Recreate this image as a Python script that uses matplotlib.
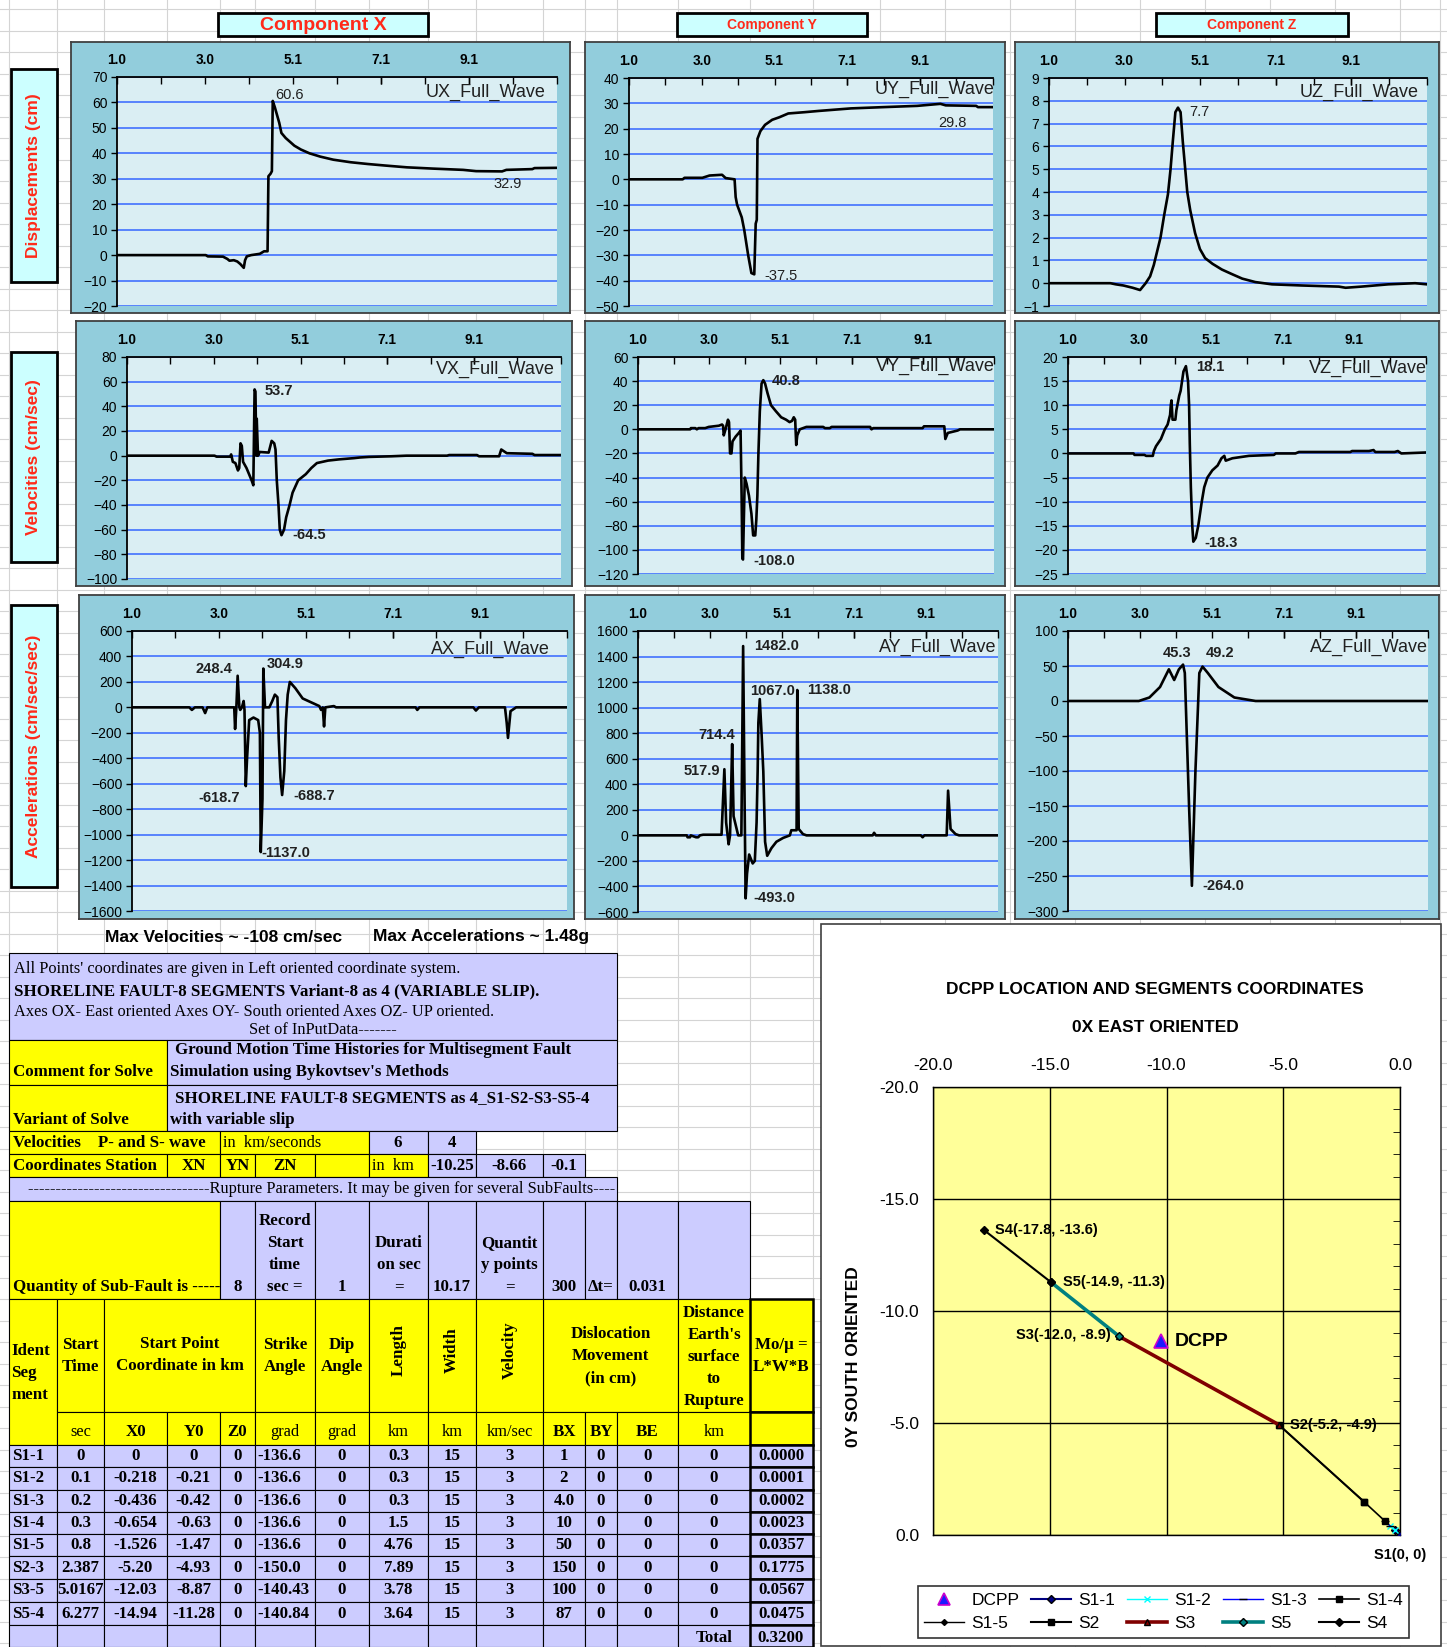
import numpy as np
import matplotlib
matplotlib.use('Agg')
import matplotlib.pyplot as plt
from matplotlib.patches import Rectangle
from matplotlib.lines import Line2D
from matplotlib.ticker import MultipleLocator

W, H = 1447, 1647
SANS = 'Liberation Sans'
SERIF = 'Liberation Serif'

# ---- waveforms (time sec, value) ----
UX_T = [1.0, 3.05, 3.1, 3.45, 3.55, 3.6, 3.7, 3.78, 3.85, 3.93, 3.96, 4.0, 4.1, 4.3, 4.4, 4.48, 4.5, 4.55, 4.58, 4.6,
        4.65, 4.7, 4.75, 4.8, 4.9, 5.0, 5.1, 5.25, 5.45, 5.7, 6.0, 6.4, 6.8, 7.2, 7.7, 8.3, 9.0, 9.3, 9.9, 10.0, 10.6, 10.65, 11.17]
UX_V = [0, 0, -0.5, -0.6, -1.5, -2.2, -2.0, -2.5, -3.5, -5.0, -2.0, -0.5, 0, 0.5, 1.5, 1.5, 31, 32, 33, 60.6,
        58, 55, 52, 48, 46, 44.5, 43, 41.5, 40, 38.7, 37.5, 36.5, 35.8, 35.2, 34.5, 34.0, 33.5, 33.0, 32.9, 33.5, 33.8, 34.2, 34.3]

UY_T = [1.0, 2.5, 2.55, 3.05, 3.25, 3.6, 3.7, 3.95, 3.98, 4.02, 4.15, 4.22, 4.33, 4.42, 4.5, 4.54, 4.57, 4.59, 4.67,
        4.8, 5.0, 5.2, 5.45, 5.9, 6.3, 7.2, 8.1, 9.05, 9.7, 9.85, 10.7, 10.75, 11.17]
UY_V = [0, 0, 0.6, 0.6, 1.5, 1.8, 0.5, 0, -7, -10, -15, -20, -30, -37, -37.5, -17.5, -16, 16, 19,
        21.5, 23.5, 24.5, 26, 26.5, 27, 28, 28.5, 29, 29.8, 29.2, 29.0, 28.5, 28.5]

UZ_T = [1.0, 2.65, 2.8, 3.0, 3.25, 3.45, 3.6, 3.72, 3.82, 4.0, 4.1, 4.2, 4.27, 4.33, 4.4, 4.47, 4.54, 4.6, 4.72, 4.8,
        4.93, 5.06, 5.2, 5.4, 5.65, 5.92, 6.2, 6.55, 7.0, 7.8, 8.8, 8.98, 9.4, 10.13, 10.85, 11.17]
UZ_V = [0, 0, -0.05, -0.1, -0.2, -0.3, 0, 0.3, 0.8, 2.0, 3.0, 3.9, 5.0, 6.2, 7.5, 7.7, 7.5, 6.2, 4.0, 3.2,
        2.2, 1.5, 1.1, 0.85, 0.6, 0.4, 0.2, 0.05, -0.05, -0.1, -0.15, -0.2, -0.15, -0.05, 0, -0.05]

VX_T = [1.0, 3.05, 3.1, 3.42, 3.44, 3.48, 3.54, 3.6, 3.63, 3.66, 3.69, 3.72, 3.8, 3.92, 3.96, 3.99, 4.01, 4.03, 4.04,
        4.07, 4.11, 4.32, 4.39, 4.45, 4.48, 4.51, 4.55, 4.58, 4.62, 4.68, 4.73, 4.81, 4.88, 5.01, 5.19, 5.32, 5.45,
        5.71, 5.97, 6.32, 6.45, 6.67, 7.2, 7.55, 8.5, 8.55, 9.2, 9.25, 9.72, 9.77, 9.9, 10.5, 10.55, 11.17]
VX_V = [0, 0, -0.8, -0.8, 1, -5, -6, -12, -10, 10, 8, -5, -10, -20, -24, 53.7, 52, 0, 30,
        0, 3, 2.5, 12, 10, 5, -20, -40, -60, -64.5, -60, -50, -40, -30, -20, -15, -10, -6,
        -4, -3, -2, -1.5, -1, -0.5, 0, 0, 0.5, 0.5, -0.5, -0.5, 5, 2, 1.5, 0.5, 0.5]

VY_T = [1.0, 2.49, 2.51, 2.64, 2.68, 2.73, 2.92, 3.02, 3.31, 3.4, 3.43, 3.45, 3.5, 3.57, 3.6, 3.63, 3.67, 3.7, 3.79,
        3.88, 3.93, 3.96, 3.98, 4.0, 4.02, 4.05, 4.1, 4.17, 4.24, 4.29, 4.35, 4.38, 4.41, 4.44, 4.48, 4.53, 4.58,
        4.63, 4.7, 4.8, 4.94, 5.09, 5.23, 5.33, 5.4, 5.45, 5.49, 5.52, 5.55, 5.62, 5.81, 6.29, 6.34, 6.48, 6.53,
        7.63, 7.67, 7.72, 9.13, 9.17, 9.75, 9.78, 9.85, 10.13, 10.2, 11.17]
VY_V = [0, 0, 1, 1, 0, 1, 1, 2, 3, 4, 3, -5, 0, 8, 6, -20, -20, -10, -6,
        -3, -1, -55, -107, -108, -80, -40, -45, -55, -70, -88, -88, -75, -55, -20, 15, 38, 40.8,
        38, 30, 20, 15, 10, 8, 6, 7, 10, 8, -13, -5, 0, 2, 2, 1, 1, 2,
        2, 0, 1, 1, 2.5, 2.5, -8, -3, -1, 0, 0]

VZ_T = [1.0, 2.86, 2.89, 3.17, 3.22, 3.41, 3.44, 3.5, 3.64, 3.75, 3.83, 3.9, 3.92, 3.94, 3.97, 4.05, 4.08, 4.16, 4.2,
        4.28, 4.35, 4.37, 4.41, 4.44, 4.46, 4.49, 4.53, 4.56, 4.63, 4.7, 4.8, 4.87, 4.96, 5.1, 5.25, 5.36, 5.44,
        5.48, 5.67, 6.14, 6.85, 6.9, 7.46, 7.56, 9.02, 9.07, 9.55, 9.68, 9.73, 10.28, 10.37, 10.47, 11.17]
VZ_V = [0, 0, -0.3, -0.3, -0.5, -0.5, 0.5, 1.5, 3, 5, 6, 8, 10, 11, 7, 7, 9, 12, 13,
        17, 18.1, 17, 15, 10, 2, -7, -15, -18.3, -17.5, -15, -10, -7, -5, -3.5, -2.5, -1, -0.5,
        -1.5, -1, -0.5, -0.3, 0, 0, 0.3, 0.3, 0.5, 0.5, 0.7, 0.3, 0.3, 0.5, 0, 0.2]

AX_T = [1.0, 2.34, 2.4, 2.47, 2.65, 2.71, 2.76, 3.39, 3.41, 3.44, 3.47, 3.51, 3.53, 3.57, 3.61, 3.63, 3.66, 3.69,
        3.74, 3.84, 3.95, 3.99, 4.01, 4.05, 4.07, 4.11, 4.21, 4.28, 4.34, 4.4, 4.43, 4.47, 4.51, 4.56, 4.6, 4.64,
        4.69, 4.82, 4.99, 5.25, 5.38, 5.42, 5.46, 5.49, 5.52, 5.72, 5.77, 7.63, 7.67, 7.72, 8.98, 9.04, 9.11,
        9.72, 9.76, 9.79, 9.85, 9.98, 11.17]
AX_V = [0, 0, -20, 0, 0, -45, 0, 0, -170, 0, 248.4, 0, -20, 0, 50, -20, -618.7, -400,
        -100, -80, -100, -200, -1137, -720, 304.9, 0, 0, 50, 100, 80, -240, -550, -688.7, -500, -100, 100,
        200, 150, 70, 30, 10, -20, 0, -150, 0, 10, 0, 0, -20, 0, 0, -25, 0,
        0, -120, -240, -30, 0, 0]

AY_T = [1.0, 2.38, 2.4, 2.47, 2.49, 2.64, 2.7, 2.75, 2.84, 3.36, 3.39, 3.44, 3.49, 3.56, 3.6, 3.63, 3.66, 3.7,
        3.83, 3.92, 3.97, 4.01, 4.04, 4.08, 4.14, 4.24, 4.3, 4.35, 4.38, 4.4, 4.44, 4.49, 4.54, 4.59, 4.65,
        4.77, 4.91, 5.1, 5.29, 5.33, 5.48, 5.5, 5.54, 5.66, 5.76, 7.63, 7.67, 7.72, 8.99, 9.04, 9.09,
        9.72, 9.76, 9.83, 9.97, 10.07, 11.17]
AY_V = [0, 0, -15, -15, 0, -15, -15, 0, 5, 5, 200, 517.9, 100, -70, 0, 350, 714.4, 150,
        0, 0, 1482, 300, -493, -300, -150, -220, -200, 100, 500, 880, 1067, 800, 500, -50, -160,
        -100, -50, -20, 0, 40, 40, 1138, 50, 10, 0, 0, 20, 0, 0, -15, 0,
        0, 350, 50, 10, 0, 0]

AZ_T = [1.0, 3.0, 3.3, 3.6, 3.85, 4.0, 4.13, 4.25, 4.3, 4.42, 4.5, 4.6, 4.71, 4.8, 4.95, 5.25, 5.55, 5.7, 6.3, 11.17]
AZ_V = [0, 0, 5, 20, 45.3, 30, 45, 52, 40, -150, -264, -100, 40, 49.2, 40, 20, 10, 5, 0, 0]

X_TICK_LABELS = ['1.0', '3.0', '5.1', '7.1', '9.1']

# ---- table ----
SEG = ['S1-1', 'S1-2', 'S1-3', 'S1-4', 'S1-5', 'S2-3', 'S3-5', 'S5-4']
START_T = ['0', '0.1', '0.2', '0.3', '0.8', '2.387', '5.0167', '6.277']
X0 = ['0', '-0.218', '-0.436', '-0.654', '-1.526', '-5.20', '-12.03', '-14.94']
Y0 = ['0', '-0.21', '-0.42', '-0.63', '-1.47', '-4.93', '-8.87', '-11.28']
Z0 = ['0'] * 8
STRIKE = ['-136.6'] * 5 + ['-150.0', '-140.43', '-140.84']
DIP = ['0'] * 8
LENGTH = ['0.3', '0.3', '0.3', '1.5', '4.76', '7.89', '3.78', '3.64']
WIDTH = ['15'] * 8
VEL = ['3'] * 8
BX = ['1', '2', '4.0', '10', '50', '150', '100', '87']
BY = ['0'] * 8
BE = ['0'] * 8
DIST = ['0'] * 8
MO = ['0.0000', '0.0001', '0.0002', '0.0023', '0.0357', '0.1775', '0.0567', '0.0475']
MO_TOTAL = '0.3200'

# ---- map ----
PX = [0, -0.218, -0.436, -0.654, -1.526, -5.20, -12.03, -14.94, -17.8]
PY = [0, -0.21, -0.42, -0.63, -1.47, -4.93, -8.87, -11.28, -13.6]
DCPP = (-10.25, -8.66)


def rect(x0, y0, x1, y1):
    return [x0 / W, 1 - y1 / H, (x1 - x0) / W, (y1 - y0) / H]


fig = plt.figure(figsize=(W / 100, H / 100), dpi=100)
fig.patch.set_facecolor('white')
bg = fig.add_axes([0, 0, 1, 1])
bg.set_xlim(0, W)
bg.set_ylim(H, 0)
bg.axis('off')

# spreadsheet grid
cols = [9, 57, 104, 167, 220, 255, 315, 369, 428, 476, 543, 585, 617, 678, 750, 813,
        880, 945, 1010, 1075, 1140, 1205, 1270, 1335, 1400, 1440]
for x in cols:
    bg.axvline(x, color='#D4D4D4', lw=0.8, zorder=0)
for y in np.arange(9, H, 21.5):
    bg.axhline(y, color='#D4D4D4', lw=0.8, zorder=0)

BSIZE = 12.2   # bold table text
NSIZE = 11.8   # regular table text


def cell(x0, x1, y0, y1, fc, lw=0.8):
    bg.add_patch(Rectangle((x0, y0), x1 - x0, y1 - y0, facecolor=fc, edgecolor='black', lw=lw, zorder=2))


def txt(x, y, s, ha='center', va='center', bold=True, size=None, rot=0, family=SERIF, color='black'):
    if size is None:
        size = BSIZE if bold else NSIZE
    bg.text(x, y, s, ha=ha, va=va, fontweight='bold' if bold else 'normal', fontsize=size,
            rotation=rot, family=[family, 'DejaVu Sans'], color=color, zorder=3)


# component headers and side labels
for (x0, x1, s, sz) in [(218, 428, 'Component X', 14), (677, 867, 'Component Y', 10), (1156, 1348, 'Component Z', 10)]:
    cell(x0, x1, 13, 36, '#CCFFFF', lw=2)
    txt((x0 + x1) / 2, 25, s, size=sz, family=SANS, color='#FF2A1A')
for (y0, y1, s) in [(69, 282, 'Displacements (cm)'), (352, 562, 'Velocities (cm/sec)'),
                    (605, 887, 'Accelerations (cm/sec/sec)')]:
    cell(11, 57, y0, y1, '#CCFFFF', lw=2)
    txt(34, (y0 + y1) / 2, s, size=12.5, family=SANS, color='#FF2A1A', rot=90)

txt(105, 937, 'Max Velocities ~ -108 cm/sec', ha='left', size=12.5, family=SANS)
txt(373, 937, 'Max Accelerations ~ 1.48g', ha='left', size=12.5, family=SANS)


def panel(frame, area, t, v, ylim, ystep, name, title_pos, labels, bold_lab):
    fa = fig.add_axes(rect(*frame))
    fa.set_facecolor('#92CDDC')
    fa.set_xticks([])
    fa.set_yticks([])
    for s in fa.spines.values():
        s.set_color('#404040')
        s.set_linewidth(1.3)
    ax = fig.add_axes(rect(*area))
    ax.set_facecolor('#DAEEF3')
    ax.plot(t, v, color='black', lw=1.9, zorder=3)
    ax.set_xlim(1.0, 11.17)
    ax.set_ylim(*ylim)
    ax.xaxis.tick_top()
    ax.set_xticks([1.0 + k * 2.0333 for k in range(5)])
    ax.set_xticklabels(X_TICK_LABELS, fontweight='bold', family=SANS, fontsize=9.8)
    ax.set_xticks([1.0 + k * 1.01667 for k in range(11)], minor=True)
    ax.tick_params(axis='x', which='both', direction='in', length=5, width=1, top=True, bottom=False, pad=7)
    ax.set_yticks(np.arange(ylim[0], ylim[1] + ystep / 2, ystep))
    ax.tick_params(axis='y', direction='out', length=4, width=1, labelsize=10, pad=3)
    for lab in ax.get_yticklabels():
        lab.set_family(SANS)
    ax.yaxis.grid(True, color='#3366FF', lw=1.1)
    ax.set_axisbelow(True)
    for k in ('bottom', 'right'):
        ax.spines[k].set_visible(False)
    ax.spines['left'].set_linewidth(1.3)
    ax.spines['top'].set_linewidth(1.3)
    ax.text(title_pos[0], title_pos[1], name, ha='right', va='center', fontsize=13, family=SANS, color='#202020')
    for (lx, ly, s, ha) in labels:
        ax.text(lx, ly, s, ha=ha, va='center', fontsize=10.5, family=SANS,
                fontweight='bold' if bold_lab else 'normal', color='#202020')


panel((71, 42, 570, 313), (117, 77, 557, 306), UX_T, UX_V, (-20, 70), 10, 'UX_Full_Wave', (10.9, 64),
      [(4.66, 62.8, '60.6', 'left'), (10.02, 27.8, '32.9', 'center')], False)
panel((585, 42, 1005, 313), (629, 78, 993, 306), UY_T, UY_V, (-50, 40), 10, 'UY_Full_Wave', (11.2, 35.6),
      [(10.05, 22.4, '29.8', 'center'), (4.79, -38.2, '-37.5', 'left')], False)
panel((1015, 42, 1439, 313), (1049, 78, 1427, 306), UZ_T, UZ_V, (-1, 9), 1, 'UZ_Full_Wave', (10.95, 8.35),
      [(4.76, 7.5, '7.7', 'left')], False)

panel((76, 321, 572, 586), (127, 357, 561, 579), VX_T, VX_V, (-100, 80), 20, 'VX_Full_Wave', (11.03, 69.8),
      [(4.23, 52.8, '53.7', 'left'), (4.88, -64.4, '-64.5', 'left')], True)
panel((585, 321, 1005, 586), (638, 357, 994, 574), VY_T, VY_V, (-120, 60), 20, 'VY_Full_Wave', (11.2, 52.6),
      [(4.83, 40, '40.8', 'left'), (4.29, -109, '-108.0', 'left')], True)
panel((1015, 321, 1439, 586), (1068, 357, 1426, 574), VZ_T, VZ_V, (-25, 20), 5, 'VZ_Full_Wave', (11.2, 17.6),
      [(4.65, 17.9, '18.1', 'left'), (4.87, -18.6, '-18.3', 'left')], True)

panel((79, 595, 574, 919), (132, 631, 567, 911), AX_T, AX_V, (-1600, 600), 200, 'AX_Full_Wave', (10.76, 454),
      [(3.34, 305, '248.4', 'right'), (4.14, 344, '304.9', 'left'), (3.52, -713, '-618.7', 'right'),
       (4.77, -694, '-688.7', 'left'), (4.02, -1148, '-1137.0', 'left')], True)
panel((585, 595, 1005, 919), (638, 631, 998, 912), AY_T, AY_V, (-600, 1600), 200, 'AY_Full_Wave', (11.13, 1475),
      [(4.28, 1480, '1482.0', 'left'), (4.16, 1132, '1067.0', 'left'), (5.78, 1137, '1138.0', 'left'),
       (3.74, 786, '714.4', 'right'), (3.32, 505, '517.9', 'right'), (4.26, -494, '-493.0', 'left')], True)
panel((1015, 595, 1439, 919), (1068, 631, 1428, 911), AZ_T, AZ_V, (-300, 100), 50, 'AZ_Full_Wave', (11.17, 76),
      [(4.09, 68.5, '45.3', 'center'), (5.3, 68.5, '49.2', 'center'), (4.8, -264, '-264.0', 'left')], True)

# ---- input data table ----
YEL = '#FFFF00'
LAV = '#CCCCFF'

cell(9, 617, 953, 1040, LAV)
txt(14, 969, "All Points' coordinates are given in Left oriented coordinate system.", ha='left', bold=False)
txt(14, 991, 'SHORELINE FAULT-8 SEGMENTS Variant-8 as 4 (VARIABLE SLIP).', ha='left')
txt(14, 1012, 'Axes OX- East oriented Axes OY- South oriented Axes OZ- UP oriented.', ha='left', bold=False)
txt(323, 1030, 'Set of InPutData-------', bold=False)

cell(9, 167, 1040, 1085, YEL)
cell(167, 617, 1040, 1085, LAV)
txt(13, 1072, 'Comment for Solve', ha='left')
txt(175, 1050, 'Ground Motion Time Histories for Multisegment Fault', ha='left')
txt(170, 1072, "Simulation using Bykovtsev's Methods", ha='left')

cell(9, 167, 1085, 1131, YEL)
cell(167, 617, 1085, 1131, LAV)
txt(13, 1120, 'Variant of Solve', ha='left')
txt(175, 1098, 'SHORELINE FAULT-8 SEGMENTS as 4_S1-S2-S3-S5-4', ha='left')
txt(170, 1120, 'with variable slip', ha='left')

cell(9, 220, 1131, 1154, YEL)
cell(220, 369, 1131, 1154, YEL)
cell(369, 428, 1131, 1154, LAV)
cell(428, 476, 1131, 1154, LAV)
txt(13, 1143, 'Velocities    P- and S- wave', ha='left')
txt(223, 1143, 'in  km/seconds', ha='left', bold=False)
txt(398, 1143, '6')
txt(452, 1143, '4')

for (x0, x1, s, fc) in [(9, 167, '', YEL), (167, 220, 'XN', YEL), (220, 255, 'YN', YEL),
                        (255, 315, 'ZN', YEL), (315, 369, '', YEL), (369, 428, '', YEL),
                        (428, 476, '-10.25', LAV), (476, 543, '-8.66', LAV), (543, 585, '-0.1', LAV)]:
    cell(x0, x1, 1154, 1177, fc)
    if s:
        txt((x0 + x1) / 2, 1166, s)
txt(13, 1166, 'Coordinates Station', ha='left')
txt(372, 1166, 'in  km', ha='left', bold=False)

cell(9, 617, 1177, 1201, LAV)
txt(615, 1189, '---------------------------------Rupture Parameters. It may be given for several SubFaults----',
    ha='right', bold=False)

qrow = [(9, 220, YEL, []), (220, 255, LAV, ['8']), (255, 315, LAV, ['Record', 'Start', 'time', 'sec =']),
        (315, 369, LAV, ['1']), (369, 428, LAV, ['Durati', 'on sec', '=']), (428, 476, LAV, ['10.17']),
        (476, 543, LAV, ['Quantit', 'y points', '=']), (543, 585, LAV, ['300']), (585, 617, LAV, ['\u0394t=']),
        (617, 678, LAV, ['0.031']), (678, 750, LAV, [])]
for (x0, x1, fc, lines) in qrow:
    cell(x0, x1, 1201, 1299, fc)
    for i, s in enumerate(lines[::-1]):
        txt((x0 + x1) / 2, 1287 - 22 * i, s)
txt(13, 1287, 'Quantity of Sub-Fault is -----', ha='left')

cols_t = [9, 57, 104, 167, 220, 255, 315, 369, 428, 476, 543, 585, 617, 678, 750, 813]

# header block
cell(9, 57, 1299, 1445, YEL)
for i, s in enumerate(['Ident', 'Seg', 'ment']):
    txt(11, 1351 + 22 * i, s, ha='left')
head = [(57, 104, ['Start', 'Time'], 1345), (104, 255, ['Start Point', 'Coordinate in km'], 1344),
        (255, 315, ['Strike', 'Angle'], 1345), (315, 369, ['Dip', 'Angle'], 1345),
        (543, 678, ['Dislocation', 'Movement', '(in cm)'], 1334),
        (678, 750, ['Distance', "Earth's", 'surface', 'to', 'Rupture'], 1313)]
for (x0, x1, lines, ytop) in head:
    cell(x0, x1, 1299, 1412, YEL)
    for i, s in enumerate(lines):
        txt((x0 + x1) / 2, ytop + 22 * i, s)
for (x0, x1, s) in [(369, 428, 'Length'), (428, 476, 'Width'), (476, 543, 'Velocity')]:
    cell(x0, x1, 1299, 1412, YEL)
    txt((x0 + x1) / 2, 1350, s, rot=90)
cell(750, 813, 1299, 1412, YEL, lw=1.8)
txt(781, 1345, 'Mo/\u03bc =')
txt(781, 1367, 'L*W*B')

units = [('sec', False), ('X0', True), ('Y0', True), ('Z0', True), ('grad', False), ('grad', False),
         ('km', False), ('km', False), ('km/sec', False), ('BX', True), ('BY', True), ('BE', True), ('km', False)]
for i, (s, b) in enumerate(units):
    x0, x1 = cols_t[i + 1], cols_t[i + 2]
    cell(x0, x1, 1412, 1445, YEL)
    txt((x0 + x1) / 2, 1432, s, bold=b)
cell(750, 813, 1412, 1445, YEL, lw=1.8)

row_edges = [1445, 1467, 1490, 1512, 1534, 1556, 1579, 1602, 1625, 1647]
table_cols = [SEG, START_T, X0, Y0, Z0, STRIKE, DIP, LENGTH, WIDTH, VEL, BX, BY, BE, DIST, MO]
for r in range(len(SEG)):
    y0, y1 = row_edges[r], row_edges[r + 1]
    for c, colvals in enumerate(table_cols):
        x0, x1 = cols_t[c], cols_t[c + 1]
        cell(x0, x1, y0, y1, LAV, lw=1.8 if c == 14 else 0.8)
        if c == 0:
            txt(x0 + 3, (y0 + y1) / 2, colvals[r], ha='left')
        elif c == 5:
            txt(x0 + 2, (y0 + y1) / 2, colvals[r], ha='left')
        else:
            txt((x0 + x1) / 2, (y0 + y1) / 2, colvals[r])
y0, y1 = row_edges[-2], row_edges[-1]
for c in range(15):
    cell(cols_t[c], cols_t[c + 1], y0, y1, LAV, lw=1.8 if c == 14 else 0.8)
txt(714, (y0 + y1) / 2 + 2, 'Total')
txt(781, (y0 + y1) / 2 + 2, MO_TOTAL)

# ---- map chart ----
bg.add_patch(Rectangle((821, 924), 620, 722, facecolor='white', edgecolor='#404040', lw=1.2, zorder=2))
txt(1155, 990, 'DCPP LOCATION AND SEGMENTS COORDINATES', size=12.5, family=SANS)
txt(1155, 1027, '0X EAST ORIENTED', size=12.5, family=SANS)
txt(853, 1357, '0Y SOUTH ORIENTED', size=12.5, family=SANS, rot=90)

m = fig.add_axes(rect(933, 1087, 1400, 1535))
m.set_facecolor('#FFFF99')
m.set_xlim(-20, 0)
m.set_ylim(0, -20)
m.xaxis.tick_top()
m.set_xticks(np.arange(-20, 0.1, 5))
m.set_yticks(np.arange(-20, 0.1, 5))
m.set_xticklabels(['%.1f' % v for v in np.arange(-20, 0.1, 5)], family=SANS, fontsize=12.5)
m.set_yticklabels(['%.1f' % v for v in np.arange(-20, 0.1, 5)], family=SANS, fontsize=12.5)
m.tick_params(which='major', length=0, pad=10)
m.yaxis.set_minor_locator(MultipleLocator(1))
m.tick_params(axis='y', which='minor', left=False, right=True, direction='in', length=5)
m.grid(True, color='black', lw=1.0)
m.set_axisbelow(True)
for s in m.spines.values():
    s.set_linewidth(1.0)

series = [('S1-1', 0, 1, '#000080', 1.5, 'D', 4), ('S1-2', 1, 2, '#00FFFF', 1.0, 'x', 4),
          ('S1-3', 2, 3, '#0000FF', 1.0, '_', 6), ('S1-4', 3, 4, 'black', 1.2, 's', 5),
          ('S1-5', 4, 5, 'black', 1.0, 'D', 3), ('S2', 4, 5, 'black', 1.5, 's', 4),
          ('S3', 5, 6, '#800000', 2.6, '^', 5), ('S5', 6, 7, '#008080', 2.6, 'D', 4),
          ('S4', 7, 8, 'black', 1.5, 'D', 4)]
handles = {}
for (name, i0, i1, col, lw, mk, ms) in series:
    mec = col if col == '#00FFFF' else 'black'
    m.plot([PX[i0], PX[i1]], [PY[i0], PY[i1]], color=col, lw=lw, marker=mk, ms=ms,
           mfc=col, mec=mec, zorder=3)
    handles[name] = Line2D([], [], color=col, lw=lw, marker=mk, ms=ms, mfc=col, mec=mec)
m.plot([DCPP[0]], [DCPP[1]], ls='none', marker='^', ms=10, mfc='#1A1AFF', mec='#CC00CC', mew=1.2, zorder=4)
handles['DCPP'] = Line2D([], [], ls='none', marker='^', ms=9, mfc='#1A1AFF', mec='#CC00CC', mew=1.2)

ann = dict(fontsize=10.5, fontweight='bold', family=SANS, va='center', zorder=5)
m.text(-17.35, -13.6, 'S4(-17.8, -13.6)', ha='left', **ann)
m.text(-14.45, -11.3, 'S5(-14.9, -11.3)', ha='left', **ann)
m.text(-12.4, -8.95, 'S3(-12.0, -8.9)', ha='right', **ann)
m.text(-9.65, -8.65, 'DCPP', ha='left', fontsize=14, fontweight='bold', family=SANS, va='center')
m.text(-4.7, -4.9, 'S2(-5.2, -4.9)', ha='left', **ann)
m.text(0.0, 0.9, 'S1(0, 0)', ha='center', clip_on=False, **ann)

order = ['DCPP', 'S1-5', 'S1-1', 'S2', 'S1-2', 'S3', 'S1-3', 'S5', 'S1-4', 'S4']
leg = fig.legend([handles[k] for k in order], order, ncol=5, loc='center',
                 bbox_to_anchor=(1163.5 / W, 1 - 1612 / H), frameon=True, fancybox=False,
                 edgecolor='black', prop={'family': SANS, 'size': 12.5}, handlelength=2.3,
                 columnspacing=0.7, handletextpad=0.4, borderpad=0.35, labelspacing=0.5)
leg.get_frame().set_linewidth(1.2)

fig.savefig('out.png', dpi=100)
